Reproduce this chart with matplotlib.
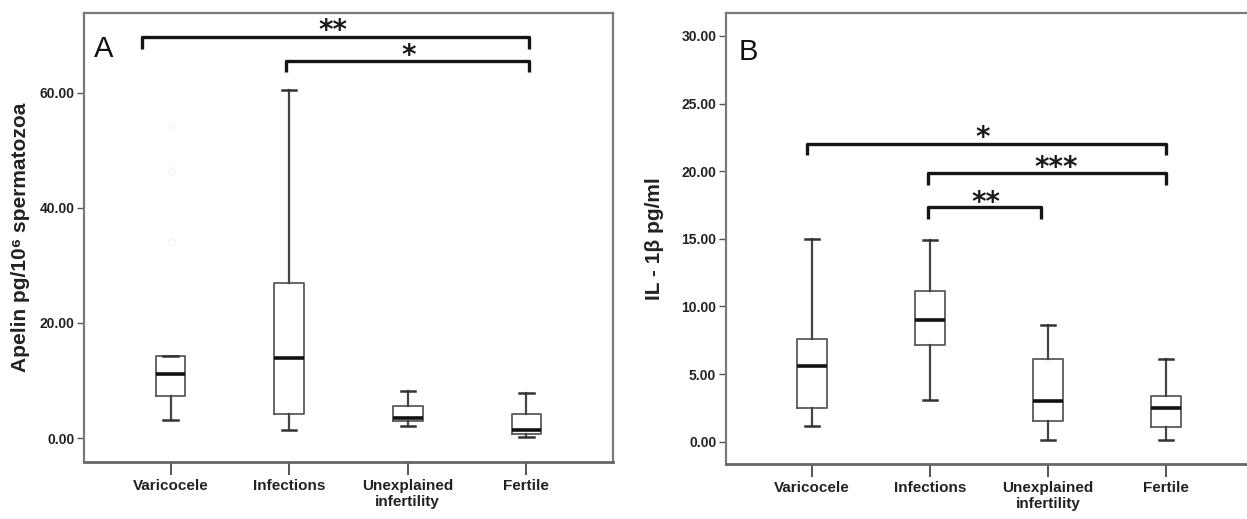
import matplotlib
matplotlib.use("Agg")
import matplotlib.pyplot as plt

# ---------------- data ----------------
categories = ["Varicocele", "Infections", "Unexplained\ninfertility", "Fertile"]

# Panel A: Apelin pg/10^6 spermatozoa
apelin_whislo = [3.1, 1.4, 2.1, 0.25]
apelin_q1 = [7.3, 4.1, 3.0, 0.65]
apelin_med = [11.2, 13.9, 3.5, 1.4]
apelin_q3 = [14.3, 26.9, 5.5, 4.2]
apelin_whishi = [14.3, 60.5, 8.1, 7.9]
apelin_fliers = [[54.0, 46.5, 34.0], [], [], []]
apelin_ticks = [0, 20, 40, 60]

# Panel B: IL-1beta pg/ml
il1b_whislo = [1.15, 3.1, 0.1, 0.1]
il1b_q1 = [2.5, 7.15, 1.5, 1.05]
il1b_med = [5.6, 9.0, 3.0, 2.52]
il1b_q3 = [7.6, 11.15, 6.1, 3.4]
il1b_whishi = [15.0, 14.9, 8.6, 6.1]
il1b_fliers = [[], [], [], []]
il1b_ticks = [0, 5, 10, 15, 20, 25, 30]

# significance brackets: (x_left, x_right, y_top, y_drop, label, label_x, label_y)
apelin_brackets = [
    (0.76, 4.02, 69.8, 67.6, "**", 2.37, 71.8),
    (1.97, 4.02, 65.6, 63.6, "*", 3.01, 67.5),
]
il1b_brackets = [
    (0.96, 4.00, 22.0, 21.2, "*", 2.45, 22.9),
    (1.98, 4.00, 19.9, 19.0, "***", 3.07, 20.65),
    (1.98, 2.94, 17.33, 16.47, "**", 2.47, 18.06),
]

# ---------------- figure ----------------
W, H = 1247, 519
fig = plt.figure(figsize=(W / 100, H / 100), dpi=100)
FONT = ["Liberation Sans", "DejaVu Sans"]
plt.rcParams["font.family"] = FONT

spine_col = "#7a7a7a"
STAR_FS = 20


def make_stats(wlo, q1, med, q3, whi, fl):
    out = []
    for i in range(len(med)):
        out.append(dict(whislo=wlo[i], q1=q1[i], med=med[i], q3=q3[i],
                        whishi=whi[i], fliers=fl[i]))
    return out


def draw_panel(ax, stats, ticks, ylim, ylabel, letter, letter_pos, brackets):
    pos = list(range(1, len(stats) + 1))
    ax.bxp(stats, positions=pos, widths=0.25, showfliers=True,
           boxprops=dict(color="#5a5a5a", linewidth=1.3),
           medianprops=dict(color="#111111", linewidth=2.6),
           whiskerprops=dict(color="#444444", linewidth=1.6),
           capprops=dict(color="#333333", linewidth=1.8),
           flierprops=dict(marker="o", markersize=5, markerfacecolor="none",
                           markeredgecolor="#f5f5f5", markeredgewidth=1.0),
           capwidths=0.12)
    ax.set_xlim(0.27, 4.73)
    ax.set_ylim(*ylim)
    ax.set_yticks(ticks)
    ax.set_yticklabels([f"{t:.2f}" for t in ticks], fontsize=10,
                       fontweight="bold", color="#222222")
    ax.set_xticks(pos)
    ax.set_xticklabels(categories, fontsize=11, fontweight="bold",
                       color="#222222", linespacing=1.25)
    ax.tick_params(axis="y", direction="out", length=5, width=1.0,
                   color="#555555", pad=2)
    ax.tick_params(axis="x", direction="out", length=9, width=1.4,
                   color="#555555", pad=3)
    for s in ax.spines.values():
        s.set_color(spine_col)
        s.set_linewidth(1.6)
    ax.spines["bottom"].set_color("#666666")
    ax.spines["bottom"].set_linewidth(2.0)
    ax.set_ylabel(ylabel, fontsize=15, fontweight="bold", color="#222222",
                  family=FONT)
    ax.text(letter_pos[0], letter_pos[1], letter, transform=ax.transAxes,
            fontsize=21, color="#111111", ha="center", va="center")
    for (x1, x2, yt, yd, lab, lx, ly) in brackets:
        ax.plot([x1, x1, x2, x2], [yd, yt, yt, yd], color="#151515",
                linewidth=2.4, solid_capstyle="butt", clip_on=False)
        ax.annotate(lab, xy=(lx, ly), xytext=(0, -0.5 * STAR_FS),
                    textcoords="offset points", ha="center", va="baseline",
                    fontsize=STAR_FS, fontweight="bold", color="#1a1a1a",
                    family=["DejaVu Sans"])


# panel A axes (pixel geometry)
axA = fig.add_axes([84 / W, (H - 462) / H, (613 - 84) / W, (462 - 13) / H])
draw_panel(axA,
           make_stats(apelin_whislo, apelin_q1, apelin_med, apelin_q3,
                      apelin_whishi, apelin_fliers),
           apelin_ticks, (-4.17, 73.9),
           "Apelin pg/10\u2076 spermatozoa", "A", (0.038, 0.92),
           apelin_brackets)
axA.yaxis.set_label_coords(-0.102, 0.5)

axB = fig.add_axes([726 / W, (H - 464) / H, (1252 - 726) / W, (464 - 13) / H])
draw_panel(axB,
           make_stats(il1b_whislo, il1b_q1, il1b_med, il1b_q3,
                      il1b_whishi, il1b_fliers),
           il1b_ticks, (-1.65, 31.7),
           "IL - 1\u03b2 pg/ml", "B", (0.043, 0.913),
           il1b_brackets)
axB.yaxis.set_label_coords(-0.118, 0.5)

fig.savefig("out.png", dpi=100)
